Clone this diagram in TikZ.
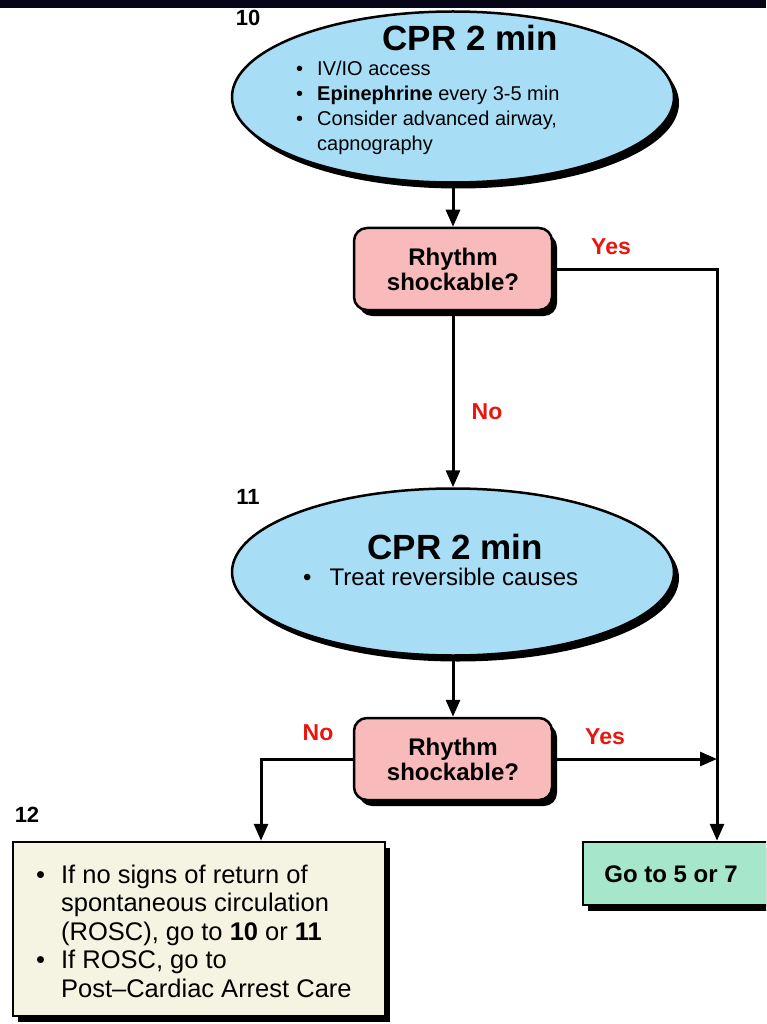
\documentclass[tikz,border=0pt]{standalone}
\usepackage{fontspec}
\setmainfont{Liberation Sans}
\usetikzlibrary{arrows.meta,shapes.geometric,shadows}
\definecolor{cprblue}{RGB}{168,221,246}
\definecolor{decpink}{RGB}{248,186,186}
\definecolor{cream}{RGB}{245,243,226}
\definecolor{mint}{RGB}{166,230,202}
\definecolor{lblred}{RGB}{232,22,12}
\definecolor{topbar}{RGB}{6,6,22}
\tikzset{
  shade/.style={drop shadow={shadow xshift=5pt,shadow yshift=-6pt,opacity=1,fill=black}},
  cprell/.style={ellipse, draw, line width=2.5pt, fill=cprblue, inner sep=0pt, shade},
  decbox/.style={rectangle, rounded corners=13pt, draw, line width=2.5pt, fill=decpink,
    minimum width=198pt, minimum height=82pt, align=center, inner sep=0pt,
    font=\fontsize{24}{25}\selectfont\bfseries, shade},
  sqbox/.style={rectangle, draw, line width=2.5pt, inner sep=0pt, shade},
  conn/.style={line width=3pt, -{Triangle[length=17pt,width=14pt]}},
  lbl/.style={font=\fontsize{23}{25}\selectfont\bfseries, text=lblred, inner sep=0pt},
  num/.style={font=\fontsize{22}{24}\selectfont\bfseries, inner sep=0pt},
  title/.style={font=\fontsize{35}{38}\selectfont\bfseries, inner sep=0pt},
  txt/.style={inner sep=0pt, anchor=north west, align=left}
}
\begin{document}
\begin{tikzpicture}[x=1pt,y=-1pt]
\clip (0,0) rectangle (766,1024);
\fill[white] (0,0) rectangle (766,1024);
\fill[topbar] (0,0) rectangle (766,8);

% shapes
\node[cprell, minimum width=442pt, minimum height=171pt] (e1) at (453,97) {};
\node[decbox] (r1) at (453,269) {Rhythm\\shockable?};
\node[cprell, minimum width=442pt, minimum height=167pt] (e2) at (453,572) {};
\node[decbox] (r2) at (453,759) {Rhythm\\shockable?};
\node[sqbox, fill=cream, minimum width=372pt, minimum height=174pt] (b12) at (199,929) {};
\node[sqbox, fill=mint, minimum width=197pt, minimum height=63pt] (g) at (681.5,873.5) {};

% texts
\node[title] (t1) at (470,38) {CPR 2 min};
\node[txt, font=\fontsize{20}{25}\selectfont] (l1) at (296,57.5) {%
\begin{tabular}{@{}l@{\hspace{14pt}}l@{}}
\textbullet & IV/IO access\\
\textbullet & \textbf{Epinephrine} every 3-5 min\\
\textbullet & Consider advanced airway,\\
 & capnography
\end{tabular}};
\node[title] (t2) at (455,547) {CPR 2 min};
\node[txt, font=\fontsize{24}{28}\selectfont] (l2) at (303,566) {%
\begin{tabular}{@{}l@{\hspace{18pt}}l@{}}
\textbullet & Treat reversible causes
\end{tabular}};
\node[txt, font=\fontsize{25.5}{28.5}\selectfont] (l3) at (36,863) {%
\begin{tabular}{@{}l@{\hspace{16pt}}l@{}}
\textbullet & If no signs of return of\\
 & spontaneous circulation\\
 & (ROSC), go to \textbf{10} or \textbf{11}\\
\textbullet & If ROSC, go to\\
 & Post–Cardiac Arrest Care
\end{tabular}};
\node[inner sep=0pt, font=\fontsize{24}{27}\selectfont\bfseries] (gt) at (671,874) {Go to 5 or 7};

% numbers
\node[num] (n10) at (248,18) {10};
\node[num] (n11) at (248,497) {11};
\node[num] (n12) at (27,815) {12};

% labels
\node[lbl] (y1) at (611,247) {Yes};
\node[lbl] (no1) at (487,412) {No};
\node[lbl] (y2) at (605,737) {Yes};
\node[lbl] (no2) at (318,733) {No};

% connectors
\coordinate (yx) at (717,0);
\coordinate (nx) at (261,0);
\draw[conn] (e1.south) -- (r1.north);
\draw[conn] (r1.south) -- (e2.north);
\draw[conn] (e2.south) -- (r2.north);
\draw[conn] (r1.east) -- (r1.east -| yx) -- (yx |- g.north);
\draw[conn] (r2.east) -- (r2.east -| yx);
\draw[conn] (r2.west) -- (r2.west -| nx) -- (nx |- b12.north);
\end{tikzpicture}
\end{document}
